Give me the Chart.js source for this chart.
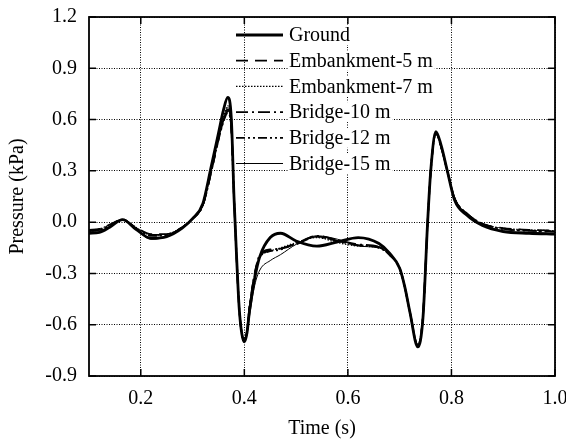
<!DOCTYPE html>
<html>
<head>
<meta charset="UTF-8" />
<title>Pressure</title>
<script src="https://cdn.jsdelivr.net/npm/chart.js"></script>
<style>
  body { margin: 0; background: #fff; }
  canvas { display: block; }
</style>
</head>
<body>
<canvas id="c" width="566" height="442"></canvas>
<script>
const time = [0.10, 0.12, 0.14, 0.165, 0.19, 0.22, 0.25, 0.28, 0.30, 0.32, 0.335, 0.35, 0.36, 0.368, 0.375, 0.38,
  0.385, 0.39, 0.395, 0.40, 0.405, 0.41, 0.42, 0.43, 0.45, 0.47, 0.50, 0.54, 0.58, 0.62, 0.66, 0.68,
  0.70, 0.71, 0.72, 0.735, 0.745, 0.754, 0.76, 0.77, 0.78, 0.792, 0.806, 0.83, 0.86, 0.90, 0.95, 1.00];

const ground = [-0.065, -0.06, -0.03, 0.015, -0.04, -0.095, -0.085, -0.035, 0.02, 0.11, 0.31, 0.52, 0.66, 0.73, 0.60, 0.15,
  -0.2, -0.5, -0.65, -0.70, -0.65, -0.52, -0.33, -0.2, -0.09, -0.065, -0.11, -0.14, -0.115, -0.09, -0.125, -0.18,
  -0.27, -0.38, -0.53, -0.73, -0.56, 0.0, 0.3, 0.53, 0.45, 0.30, 0.13, 0.04, -0.02, -0.055, -0.065, -0.07];
const emb5 = [-0.045, -0.04, -0.015, 0.015, -0.03, -0.07, -0.07, -0.03, 0.02, 0.10, 0.28, 0.48, 0.60, 0.66, 0.55, 0.15,
  -0.2, -0.5, -0.65, -0.69, -0.64, -0.50, -0.30, -0.20, -0.165, -0.155, -0.13, -0.085, -0.11, -0.135, -0.145, -0.19,
  -0.27, -0.38, -0.53, -0.72, -0.55, 0.0, 0.3, 0.52, 0.44, 0.30, 0.14, 0.05, -0.01, -0.035, -0.045, -0.05];
const emb7 = [-0.045, -0.04, -0.015, 0.015, -0.03, -0.075, -0.07, -0.03, 0.02, 0.10, 0.29, 0.50, 0.62, 0.68, 0.56, 0.15,
  -0.2, -0.5, -0.65, -0.69, -0.64, -0.50, -0.31, -0.21, -0.17, -0.15, -0.12, -0.09, -0.12, -0.14, -0.15, -0.19,
  -0.27, -0.38, -0.53, -0.72, -0.55, 0.0, 0.3, 0.52, 0.44, 0.30, 0.14, 0.05, -0.01, -0.035, -0.045, -0.05];
const bridge10 = [-0.05, -0.045, -0.02, 0.015, -0.035, -0.075, -0.075, -0.03, 0.02, 0.10, 0.28, 0.49, 0.60, 0.65, 0.55, 0.15,
  -0.2, -0.5, -0.65, -0.69, -0.64, -0.50, -0.30, -0.19, -0.16, -0.155, -0.125, -0.08, -0.105, -0.13, -0.145, -0.19,
  -0.27, -0.38, -0.53, -0.72, -0.55, 0.0, 0.3, 0.52, 0.44, 0.30, 0.14, 0.05, -0.01, -0.04, -0.05, -0.055];
const bridge12 = [-0.05, -0.045, -0.02, 0.015, -0.035, -0.08, -0.075, -0.03, 0.02, 0.10, 0.28, 0.48, 0.59, 0.64, 0.54, 0.15,
  -0.2, -0.5, -0.65, -0.69, -0.64, -0.50, -0.31, -0.20, -0.17, -0.16, -0.125, -0.085, -0.11, -0.135, -0.15, -0.19,
  -0.27, -0.38, -0.53, -0.72, -0.55, 0.0, 0.3, 0.52, 0.44, 0.30, 0.14, 0.05, -0.01, -0.04, -0.05, -0.055];
const bridge15 = [-0.055, -0.05, -0.025, 0.015, -0.04, -0.1, -0.085, -0.035, 0.02, 0.10, 0.29, 0.50, 0.61, 0.67, 0.56, 0.15,
  -0.2, -0.5, -0.65, -0.70, -0.66, -0.55, -0.37, -0.28, -0.225, -0.19, -0.13, -0.08, -0.10, -0.14, -0.15, -0.19,
  -0.27, -0.38, -0.53, -0.72, -0.55, 0.0, 0.3, 0.52, 0.44, 0.30, 0.14, 0.05, -0.015, -0.05, -0.06, -0.065];

const seriesNames = ['Ground', 'Embankment-5 m', 'Embankment-7 m', 'Bridge-10 m', 'Bridge-12 m', 'Bridge-15 m'];
const xTicks = [0.2, 0.4, 0.6, 0.8, 1.0];
const yTicks = [-0.9, -0.6, -0.3, 0.0, 0.3, 0.6, 0.9, 1.2];

const FONT = '"Liberation Serif", "Times New Roman", serif';
const FS = 20;
const series = [ground, emb5, emb7, bridge10, bridge12, bridge15];
const styles = [
  { w: 2.8, dash: [] },
  { w: 1.8, dash: [12, 7] },
  { w: 1.2, dash: [1.5, 1.5] },
  { w: 1.8, dash: [12, 4, 2, 4] },
  { w: 1.8, dash: [9, 3, 2, 3, 2, 3] },
  { w: 1.0, dash: [] }
];

const datasets = series.map((vals, i) => ({
  label: seriesNames[i],
  data: time.map((t, j) => ({ x: t, y: vals[j] })),
  borderColor: '#000',
  borderWidth: styles[i].w,
  borderDash: styles[i].dash,
  pointRadius: 0,
  fill: false,
  cubicInterpolationMode: 'monotone'
}));

const noPad = s => { s.paddingLeft = 0; s.paddingRight = 0; s.paddingTop = 0; s.paddingBottom = 0; };

const framePlugin = {
  id: 'frame',
  afterDraw(chart) {
    const { ctx, chartArea: a, scales } = chart;
    ctx.save();
    ctx.strokeStyle = '#000';
    ctx.setLineDash([]);
    ctx.lineWidth = 1.5;
    // inward ticks on all four sides
    xTicks.forEach(v => {
      const px = scales.x.getPixelForValue(v);
      ctx.beginPath();
      ctx.moveTo(px, a.bottom); ctx.lineTo(px, a.bottom - 7);
      ctx.moveTo(px, a.top); ctx.lineTo(px, a.top + 7);
      ctx.stroke();
    });
    yTicks.forEach(v => {
      const py = scales.y.getPixelForValue(v);
      ctx.beginPath();
      ctx.moveTo(a.left, py); ctx.lineTo(a.left + 7, py);
      ctx.moveTo(a.right, py); ctx.lineTo(a.right - 7, py);
      ctx.stroke();
    });
    ctx.lineWidth = 1.8;
    ctx.strokeRect(a.left, a.top, a.right - a.left, a.bottom - a.top);

    // legend
    ctx.font = FS + 'px ' + FONT;
    ctx.textBaseline = 'middle';
    chart.data.datasets.forEach((ds, i) => {
      const y = 35 + i * 25.7;
      const w = ctx.measureText(ds.label).width;
      ctx.fillStyle = '#fff';
      ctx.fillRect(288, y - 10, w + 3, 20);
      ctx.strokeStyle = '#000';
      ctx.lineWidth = ds.borderWidth;
      ctx.setLineDash(ds.borderDash);
      ctx.beginPath();
      ctx.moveTo(236, y); ctx.lineTo(283, y);
      ctx.stroke();
      ctx.setLineDash([]);
      ctx.fillStyle = '#000';
      ctx.fillText(ds.label, 289, y + 1);
    });
    ctx.restore();
  }
};

new Chart(document.getElementById('c'), {
  type: 'line',
  data: { datasets },
  options: {
    responsive: false,
    animation: false,
    devicePixelRatio: 1,
    layout: { padding: { left: 0, right: 11, top: 17, bottom: 0 } },
    plugins: { legend: { display: false }, tooltip: { enabled: false } },
    scales: {
      x: {
        type: 'linear',
        min: 0.1,
        max: 1.0,
        afterBuildTicks: s => { s.ticks = xTicks.map(v => ({ value: v })); },
        afterFit: s => { s.height = 66; noPad(s); },
        grid: { color: '#000', lineWidth: 1, drawTicks: false },
        border: { display: false, dash: [1, 1.5] },
        ticks: { padding: 11, color: '#000', font: { family: FONT, size: FS }, callback: v => v.toFixed(1), maxRotation: 0 },
        title: { display: true, text: 'Time (s)', color: '#000', font: { family: FONT, size: FS }, padding: { top: 0, bottom: 1 } }
      },
      y: {
        min: -0.9,
        max: 1.2,
        afterBuildTicks: s => { s.ticks = yTicks.map(v => ({ value: v })); },
        afterFit: s => { s.width = 89; noPad(s); },
        grid: { color: '#000', lineWidth: 1, drawTicks: false },
        border: { display: false, dash: [1, 1.5] },
        ticks: { padding: 12, color: '#000', font: { family: FONT, size: FS }, callback: v => v.toFixed(1) },
        title: { display: true, text: 'Pressure (kPa)', color: '#000', font: { family: FONT, size: FS }, padding: { top: 6, bottom: 0 } }
      }
    }
  },
  plugins: [framePlugin]
});
</script>
</body>
</html>
